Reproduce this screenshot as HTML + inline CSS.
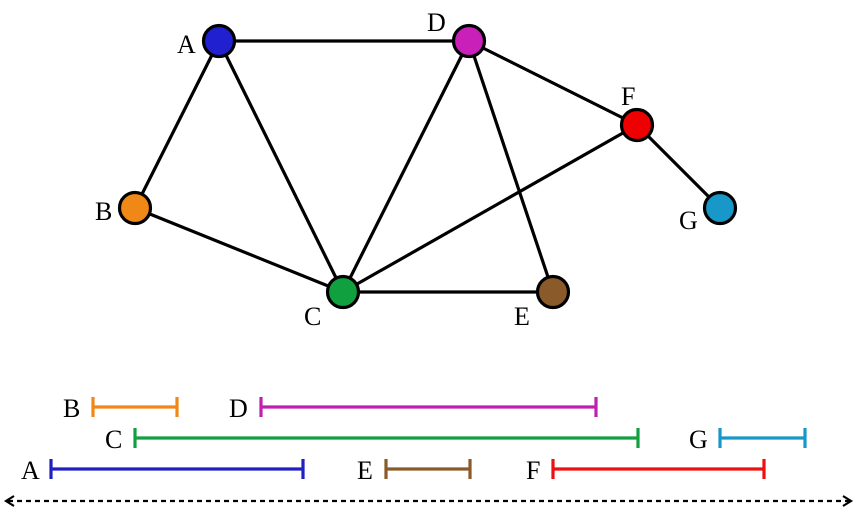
<!DOCTYPE html>
<html><head><meta charset="utf-8"><style>html,body{margin:0;padding:0;background:#fff}svg{display:block}</style></head>
<body>
<svg width="857" height="512" viewBox="0 0 857 512" xmlns="http://www.w3.org/2000/svg" font-family="Liberation Serif, serif" font-size="26">
<g stroke="#000" stroke-width="3.2">
<line x1="219" y1="41" x2="469" y2="41"/>
<line x1="219" y1="41" x2="135" y2="208"/>
<line x1="219" y1="41" x2="343" y2="292"/>
<line x1="135" y1="208" x2="343" y2="292"/>
<line x1="469" y1="41" x2="343" y2="292"/>
<line x1="469" y1="41" x2="553" y2="292"/>
<line x1="469" y1="41" x2="637" y2="125"/>
<line x1="637" y1="125" x2="343" y2="292"/>
<line x1="637" y1="125" x2="720" y2="208"/>
<line x1="343" y1="292" x2="553" y2="292"/>
</g>
<g stroke="#000" stroke-width="3.2">
<circle cx="219" cy="41" r="15.5" fill="#2020d0"/>
<circle cx="469" cy="41" r="15.5" fill="#c820b8"/>
<circle cx="637" cy="125" r="15.5" fill="#ee0000"/>
<circle cx="720" cy="208" r="15.5" fill="#1898c8"/>
<circle cx="135" cy="208" r="15.5" fill="#f08818"/>
<circle cx="343" cy="292" r="15.5" fill="#10a040"/>
<circle cx="553" cy="292" r="15.5" fill="#8a5a2a"/>
</g>
<g fill="#000">
<text x="177" y="53">A</text>
<text x="427" y="31">D</text>
<text x="621" y="105">F</text>
<text x="679" y="229">G</text>
<text x="95" y="220">B</text>
<text x="304" y="325">C</text>
<text x="514" y="325">E</text>
<text x="63" y="417">B</text>
<text x="229" y="417">D</text>
<text x="105" y="448">C</text>
<text x="689" y="448">G</text>
<text x="21" y="479">A</text>
<text x="357" y="479">E</text>
<text x="526" y="479">F</text>
</g>
<g stroke-width="3.2" fill="none">
<path d="M93 407H177M93 397V417M177 397V417" stroke="#f08818"/>
<path d="M261 407H596M261 397V417M596 397V417" stroke="#c020b0"/>
<path d="M135 438H638M135 428V448M638 428V448" stroke="#10a040"/>
<path d="M720 438H805M720 428V448M805 428V448" stroke="#1898c8"/>
<path d="M51 469H303M51 459V479M303 459V479" stroke="#2020c0"/>
<path d="M386 469H470M386 459V479M470 459V479" stroke="#8a5a2a"/>
<path d="M553 469H764M553 459V479M764 459V479" stroke="#ee1010"/>
</g>
<line x1="8" y1="501" x2="849" y2="501" stroke="#000" stroke-width="2.2" stroke-dasharray="5,4"/>
<path d="M14 496L6 501L14 506M843 496L851 501L843 506" stroke="#000" stroke-width="2.2" fill="none"/>
</svg>
</body></html>
